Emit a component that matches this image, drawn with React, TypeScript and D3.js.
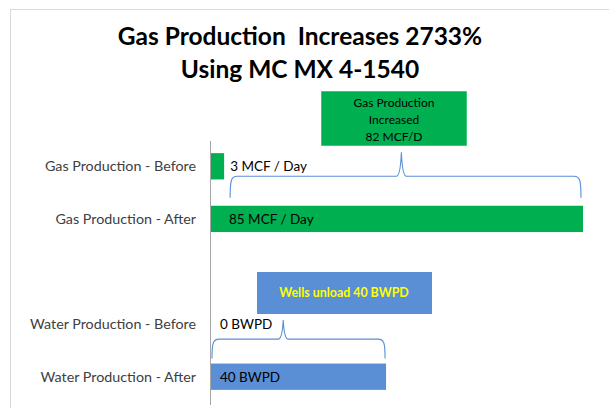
import React from "react";
import * as d3 from "d3";

const categories = [
  "Gas Production - Before",
  "Gas Production - After",
  "",
  "Water Production - Before",
  "Water Production - After",
];
const values = [3, 85, null, 0, 40];
const valueLabels = ["3 MCF / Day", "85 MCF / Day", "", "0 BWPD", "40 BWPD"];
const barColors = ["#00B050", "#00B050", "none", "#5A8ED5", "#5A8ED5"];
const titleLines = ["Gas Production  Increases 2733%", "Using MC MX 4-1540"];
const gasNote = ["Gas Production", "Increased", "82 MCF/D"];
const waterNote = "Wells unload 40 BWPD";

const W = 609;
const H = 408;
const FONT = "Lato, 'Open Sans', sans-serif";

function brace(x1: number, x2: number, yb: number, yh: number, xc: number, yt: number) {
  const p = d3.path();
  p.moveTo(x1, yb);
  p.bezierCurveTo(x1, yh + 4, x1 + 1, yh, x1 + 7, yh);
  p.lineTo(xc - 5, yh);
  p.quadraticCurveTo(xc - 1, yh, xc, yt);
  p.quadraticCurveTo(xc + 1, yh, xc + 5, yh);
  p.lineTo(x2 - 7, yh);
  p.bezierCurveTo(x2 - 1, yh, x2, yh + 4, x2, yb);
  return p.toString();
}

export default function App() {
  const x = d3.scaleLinear().domain([0, 85]).range([211, 583]);
  const y = d3
    .scaleBand<string>()
    .domain(categories.map((c, i) => i + ""))
    .range([140, 403])
    .paddingInner(0.5)
    .paddingOuter(0.25);
  const bw = y.bandwidth();
  const yc = (i: number) => (y(i + "") as number) + bw / 2;

  const gasBrace = brace(x(values[0] as number) + 6, x(values[1] as number) - 2, yc(1) - bw / 2 - 8, yc(0) + 10, x(43.5), yc(0) - 14);
  const waterBrace = brace(x(values[3] as number) + 1, x(values[4] as number) - 1, yc(4) - bw / 2 - 5, yc(3) + 15, x(16.5), yc(3) - 4);

  return (
    <svg width={W} height={H} style={{ position: "absolute", left: 0, top: 0 }} fontFamily={FONT}>
      <rect x={0} y={0} width={W} height={H} fill="#fff" />
      <line x1={10.5} y1={10} x2={10.5} y2={H} stroke="#d9d9d9" />
      <line x1={10} y1={9.5} x2={W} y2={9.5} stroke="#d9d9d9" />
      {titleLines.map((t, i) => (
        <text key={i} x={300} y={45 + i * 33} textAnchor="middle" fontSize={24.5} fontWeight={700} fill="#000" xmlSpace="preserve">
          {t}
        </text>
      ))}
      {values.map((v, i) =>
        v == null || v === 0 ? null : (
          <rect key={i} x={x(0)} y={y(i + "")} width={x(v) - x(0)} height={bw} fill={barColors[i]} />
        )
      )}
      <line x1={210.5} x2={210.5} y1={141} y2={405} stroke="#a6a6a6" />
      {categories.map((c, i) =>
        c ? (
          <text key={i} x={196} y={yc(i) + 5} textAnchor="end" fontSize={14.3} fill="#404040">
            {c}
          </text>
        ) : null
      )}
      {valueLabels.map((l, i) => {
        const v = values[i] as number;
        if (!l) return null;
        const inside = v > 20;
        const lx = inside ? x(0) + (i === 1 ? 18 : 9) : x(v) + 6 + (v === 0 ? 3 : 0);
        return (
          <text key={i} x={lx} y={yc(i) + 5} fontSize={13.5} fill="#000">
            {l}
          </text>
        );
      })}
      <path d={gasBrace} fill="none" stroke="#5A8ED5" strokeWidth={1.1} />
      <path d={waterBrace} fill="none" stroke="#5A8ED5" strokeWidth={1.1} />
      <rect x={321} y={91} width={146} height={55} fill="#00B050" stroke="#ffffff" strokeWidth={0.5} />
      {gasNote.map((t, i) => (
        <text key={i} x={394} y={107 + i * 17} textAnchor="middle" fontSize={12} fill="#000">
          {t}
        </text>
      ))}
      <rect x={257} y={272} width={175} height={42} fill="#5A8ED5" />
      <text x={344} y={297} textAnchor="middle" fontSize={12.4} fontWeight={700} fill="#FFFF00">
        {waterNote}
      </text>
    </svg>
  );
}
